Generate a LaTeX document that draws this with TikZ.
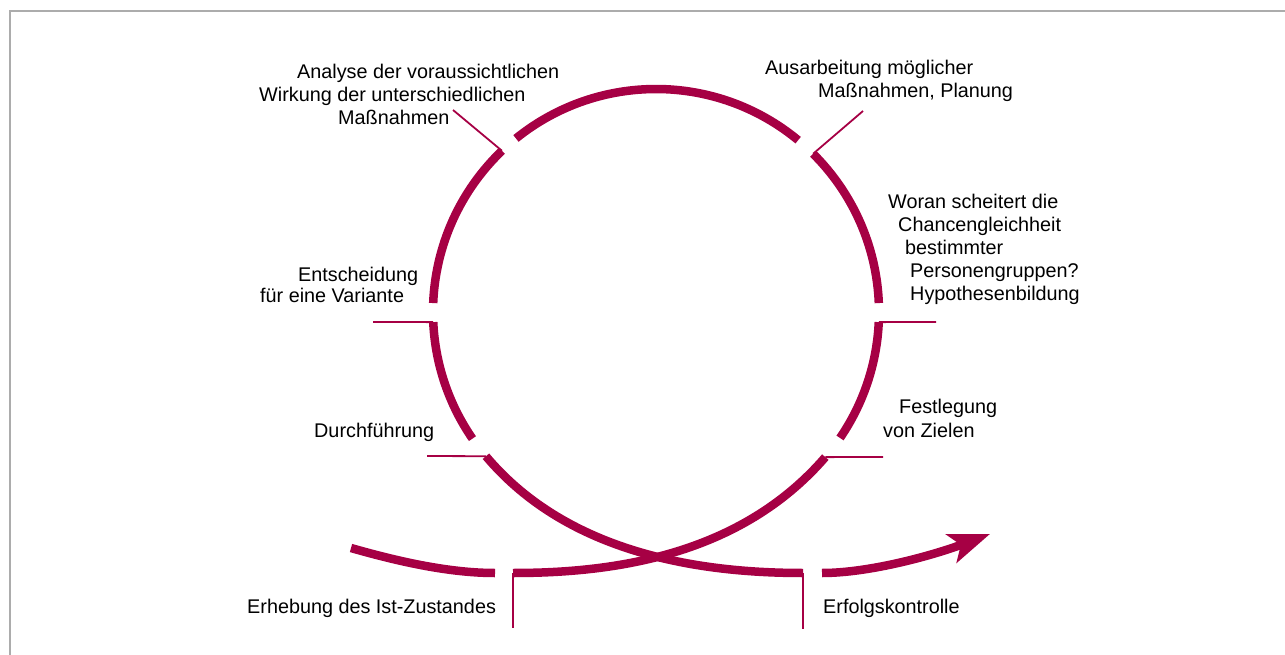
\documentclass[tikz,border=0pt]{standalone}
\usepackage{fontspec}
\setmainfont{Liberation Sans}
\usetikzlibrary{calc,arrows.meta}
\definecolor{loopred}{RGB}{166,0,68}
\definecolor{framegray}{RGB}{172,172,172}
\begin{document}
\begin{tikzpicture}[x=1pt,y=-1pt,
  band/.style={line width=8.5pt,loopred},
  tick/.style={line width=1.8pt,loopred},
  stage/.style={inner sep=0pt,anchor=base west,align=left,
    font=\fontsize{19.8}{23}\selectfont}]
\useasboundingbox (0,0) rectangle (1285,655);
\draw[framegray,line width=2pt] (10,655) -- (10,11) -- (1285,11);

\coordinate (c) at (656,312);
\coordinate (erh) at (513,573);
\coordinate (erf) at (803,573);
\coordinate (fes) at ($(c)+(40.6:223)$);
\coordinate (wor) at ($(c)+(2.6:223)$);
\coordinate (aus) at ($(c)+(-45.2:223)$);
\coordinate (ana) at ($(c)+(-133.7:223)$);
\coordinate (ent) at ($(c)+(177.4:223)$);
\coordinate (dur) at ($(c)+(139.7:223)$);

\draw[band] (351,548) .. controls (400,562) and (450,573) .. (495,573);
\draw[band] (erh) .. controls (613,573) and (740,556) .. (fes);
\draw[band] ($(c)+(34.4:223)$) arc[start angle=34.4,end angle=2.6,radius=223];
\draw[band] ($(c)+(-2.3:223)$) arc[start angle=-2.3,end angle=-45.2,radius=223];
\draw[band] ($(c)+(-50.4:223)$) arc[start angle=-50.4,end angle=-128.9,radius=223];
\draw[band] ($(c)+(-133.7:223)$) arc[start angle=-133.7,end angle=-177.7,radius=223];
\draw[band] ($(c)+(177.4:223)$) arc[start angle=177.4,end angle=145.4,radius=223];
\draw[band] (dur) .. controls (569,555) and (703,573) .. (erf);
\draw[band,-{Stealth[length=41pt,width=30pt,inset=10pt]}]
  (822,573) .. controls (870,573) and (934,555) .. (990,534);

\draw[tick] (erh) -- (513,628);
\draw[tick] (fes) -- (883,457);
\draw[tick] (wor) -- (936,322);
\draw[tick] (aus) -- (863,111);
\draw[tick] (ana) -- (453,110);
\draw[tick] (ent) -- (373,322);
\draw[tick] (dur) -- (427,456);
\draw[tick] (erf) -- (803,629);

\node[stage] (analyse) at (259,125) {\hspace*{38pt}Analyse der voraussichtlichen\\Wirkung der unterschiedlichen\\\hspace*{79pt}Maßnahmen};
\node[stage] (ausarb) at (765,98) {Ausarbeitung möglicher\\\hspace*{53pt}Maßnahmen, Planung};
\node[stage] (woran) at (888,300) {Woran scheitert die\\\hspace*{10pt}Chancengleichheit\\\hspace*{17pt}bestimmter\\\hspace*{22pt}Personengruppen?\\\hspace*{22pt}Hypothesenbildung};
\node[stage,font=\fontsize{19.8}{21}\selectfont] (entsch) at (260,302) {\hspace*{38pt}Entscheidung\\für eine Variante};
\node[stage] (durch) at (314,437) {Durchführung};
\node[stage,font=\fontsize{19.8}{24}\selectfont] (festl) at (883,437) {\hspace*{16pt}Festlegung\\von Zielen};
\node[stage] (erheb) at (247,613) {Erhebung des Ist-Zustandes};
\node[stage] (erfolg) at (823,613) {Erfolgskontrolle};
\end{tikzpicture}
\end{document}
